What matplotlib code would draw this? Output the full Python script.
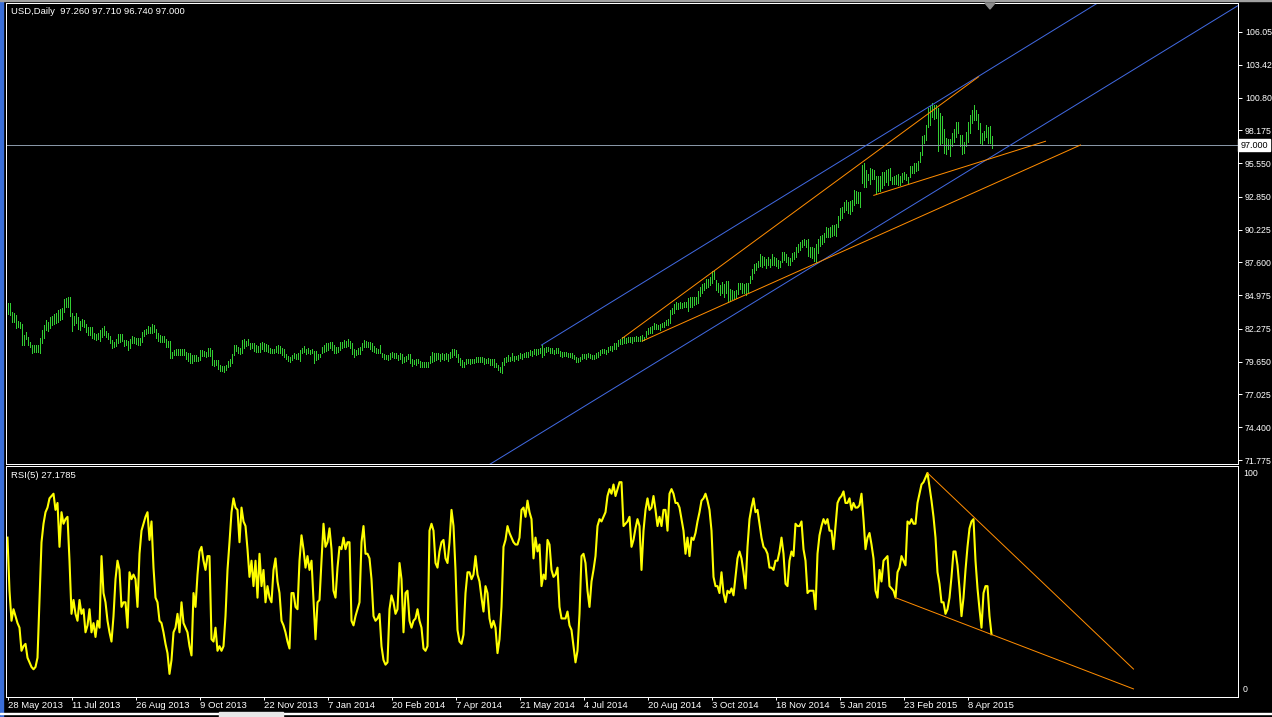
import matplotlib

matplotlib.use("Agg")
import matplotlib.pyplot as plt
from matplotlib.patches import Polygon, Rectangle
import numpy as np

W, H = 1272, 717

# Daily bars from 28 May 2013 to late April 2015
price_high = [
    84.32, 84.32, 83.63, 83.52, 83.39, 82.93, 82.80, 82.64, 81.79, 82.00,
    81.60, 81.23, 80.96, 80.96, 80.96, 80.96, 81.52, 82.19, 82.59, 82.99,
    82.80, 83.25, 83.31, 83.47, 83.52, 83.79, 83.89, 83.95, 84.67, 84.72,
    84.80, 84.80, 83.52, 83.31, 83.52, 83.20, 82.93, 83.04, 82.99, 82.67,
    82.45, 82.40, 82.40, 81.92, 81.87, 81.97, 82.19, 82.37, 82.51, 82.13,
    81.97, 81.71, 81.39, 81.23, 81.44, 81.87, 81.87, 81.87, 81.39, 81.39,
    81.33, 81.44, 81.71, 81.60, 81.55, 81.55, 81.55, 82.03, 82.19, 82.24,
    82.51, 82.40, 82.67, 82.61, 82.24, 81.92, 81.79, 81.71, 81.71, 81.44,
    81.33, 81.31, 80.42, 80.58, 80.64, 80.64, 80.67, 80.64, 80.64, 80.45,
    80.37, 80.32, 80.21, 80.16, 80.16, 80.05, 80.58, 80.58, 80.53, 80.42,
    80.72, 80.72, 80.58, 79.78, 79.78, 79.78, 79.38, 79.30, 79.30, 79.36,
    79.73, 79.84, 80.26, 80.96, 81.01, 80.85, 80.72, 81.39, 81.44, 81.31,
    81.44, 81.17, 81.12, 81.12, 80.96, 80.91, 81.17, 81.23, 81.12, 81.07,
    80.96, 80.72, 80.69, 80.69, 80.91, 80.96, 80.91, 80.75, 80.64, 80.26,
    80.10, 80.05, 80.21, 80.32, 80.26, 80.32, 80.58, 80.75, 80.91, 80.69,
    80.77, 80.58, 80.69, 80.53, 80.48, 80.26, 80.26,
    80.85, 80.98, 81.17, 81.17, 81.22, 81.22, 80.96, 80.85, 80.80, 81.22,
    81.22, 81.39, 81.33, 81.44, 81.33, 81.12, 80.64, 80.58, 80.72, 80.80,
    81.17, 81.39, 81.28, 81.25, 81.25, 81.17, 80.90, 80.72, 80.64, 80.98,
    80.32, 80.26, 80.18, 80.18, 80.32, 80.45, 80.37, 80.32, 80.18, 80.32,
    80.26, 80.05, 80.10, 80.26, 80.26, 79.84, 79.78, 79.84, 79.84, 79.68,
    79.65, 79.65, 79.62, 79.65, 80.10, 80.45, 80.37, 80.32, 80.37, 80.26,
    80.32, 80.26, 80.37, 80.26, 80.45, 80.64, 80.69, 80.58, 80.26, 79.92,
    79.78, 79.65, 79.84, 79.84, 79.84, 79.84, 79.89, 80.00, 80.05, 80.00,
    80.00, 79.92, 79.84, 79.92, 79.84, 79.84, 79.84, 79.57, 79.38, 79.25,
    79.65, 79.92, 80.05, 80.18, 80.00, 80.32, 80.10, 80.10, 80.18, 80.32,
    80.26, 80.37, 80.45, 80.45, 80.58, 80.53, 80.64, 80.69, 80.64, 80.72,
    80.98, 80.72, 80.80, 80.85, 80.74, 80.72, 80.58, 80.72, 80.74, 80.53,
    80.45, 80.45, 80.45, 80.37, 80.37, 80.32, 80.18, 80.05, 79.92, 80.05,
    80.26, 80.26, 80.26, 80.32, 80.26, 80.18, 80.18, 80.32, 80.45, 80.58,
    80.64, 80.69, 80.58, 80.85, 80.91, 80.91, 81.17, 81.12, 81.39, 81.49,
    81.60, 81.60, 81.52, 81.65, 81.65, 81.60, 81.65, 81.71, 81.65, 81.71,
    81.79, 81.65, 82.13, 82.35, 82.40, 82.51, 82.72, 82.67, 82.59, 82.67,
    82.77, 82.85, 82.99, 83.04, 83.79, 83.92, 84.27, 84.45, 84.32, 84.43,
    84.38, 84.45, 84.43, 84.72, 84.80, 84.80, 84.86, 84.86, 85.34, 85.60,
    85.87, 85.98, 86.24, 86.24, 86.46, 86.94, 86.94, 86.19, 85.98, 85.79,
    86.06, 85.87, 86.08, 86.08, 85.44, 85.39, 85.34, 85.39, 85.98, 85.98,
    85.98, 85.87, 85.98, 85.92, 86.51, 87.04, 87.47, 87.58, 87.74, 88.27,
    88.11, 88.06, 87.90, 88.06, 87.90, 88.27, 88.01, 87.93, 87.79, 87.74,
    88.46, 88.43, 88.27, 88.01, 87.93, 88.33, 88.46, 88.81, 89.07, 89.26,
    89.39, 89.50, 89.42, 89.45, 88.86, 88.81, 88.73, 89.07, 89.50, 89.70,
    89.79, 89.93, 90.41, 90.33, 90.46, 90.60, 90.60, 90.68, 91.32, 91.93,
    92.01, 92.46, 92.60, 92.46, 92.54, 92.60, 93.40, 93.34, 93.24, 93.27,
    95.40, 95.53, 95.00, 94.68, 95.13, 95.05, 95.00, 94.52, 94.52, 94.52,
    94.86, 94.86, 95.00, 95.10, 95.13, 94.41, 94.52, 94.57, 94.68, 94.52,
    94.79, 94.86, 94.68, 94.46, 95.32, 95.32, 95.53, 95.59, 95.75, 96.47,
    97.72, 97.80, 98.60, 99.94, 100.12, 100.34, 100.20, 100.20, 99.94, 99.59,
    99.32, 98.25, 97.53, 97.45, 97.45, 97.99, 98.25, 98.87, 98.87, 97.80,
    97.80, 97.27, 98.07, 98.87, 99.40, 99.80, 100.20, 99.80, 99.48, 98.74,
    97.93, 98.15, 98.60, 98.47, 98.52, 97.71,
]
price_low = [
    83.47, 83.39, 82.85, 82.85, 82.32, 82.45, 82.37, 80.96, 80.99, 81.44,
    80.99, 80.85, 80.37, 80.42, 80.42, 80.45, 80.37, 81.17, 81.52, 82.19,
    82.13, 82.37, 82.59, 82.67, 82.72, 82.85, 82.99, 83.04, 83.65, 84.00,
    84.05, 83.33, 82.13, 82.59, 82.72, 82.24, 82.19, 82.51, 82.40, 82.05,
    81.81, 81.79, 81.55, 81.44, 81.39, 81.44, 81.31, 81.60, 81.76, 81.65,
    81.47, 81.12, 80.75, 80.85, 80.91, 81.17, 81.23, 81.33, 80.91, 80.99,
    80.58, 80.75, 81.12, 81.12, 81.07, 80.96, 80.99, 81.25, 81.71, 81.87,
    81.97, 81.92, 81.92, 82.05, 81.55, 81.33, 81.23, 81.23, 81.23, 80.85,
    80.85, 79.97, 79.94, 80.16, 80.16, 80.16, 80.21, 80.21, 80.16, 79.84,
    79.68, 79.57, 79.52, 79.68, 79.73, 79.73, 79.78, 80.10, 80.10, 80.05,
    80.10, 80.10, 79.36, 79.30, 79.38, 79.04, 78.93, 78.93, 78.82, 78.98,
    79.20, 79.30, 79.57, 80.16, 80.53, 80.37, 80.26, 80.32, 80.72, 80.91,
    80.99, 80.64, 80.75, 80.53, 80.42, 80.45, 80.45, 80.64, 80.53, 80.53,
    80.42, 80.37, 80.37, 80.37, 80.42, 80.37, 80.37, 80.21, 80.05, 79.84,
    79.68, 79.65, 79.78, 79.94, 79.84, 79.84, 79.73, 80.37, 80.42, 80.26,
    80.32, 80.26, 80.32, 79.57, 79.78, 79.84, 80.00,
    80.32, 80.45, 80.53, 80.58, 80.72, 80.58, 80.37, 80.32, 80.45, 80.58,
    80.72, 80.85, 80.80, 80.90, 80.77, 80.26, 80.05, 80.18, 80.26, 80.26,
    80.58, 80.80, 80.80, 80.80, 80.66, 80.53, 80.45, 80.32, 80.32, 80.37,
    80.00, 79.84, 79.89, 79.78, 79.84, 80.05, 79.92, 79.94, 79.78, 79.84,
    79.52, 79.62, 79.73, 79.84, 79.57, 79.30, 79.46, 79.36, 79.52, 79.20,
    79.20, 79.20, 79.20, 79.25, 79.57, 79.65, 79.73, 79.78, 79.84, 79.73,
    79.84, 79.78, 79.84, 79.73, 79.92, 80.05, 80.16, 80.05, 79.65, 79.36,
    79.25, 79.25, 79.46, 79.52, 79.46, 79.52, 79.57, 79.62, 79.62, 79.62,
    79.62, 79.46, 79.52, 79.52, 79.36, 79.38, 79.25, 79.25, 78.98, 78.85,
    78.77, 79.38, 79.62, 79.73, 79.73, 79.78, 79.73, 79.84, 79.78, 79.92,
    79.89, 80.05, 80.05, 80.05, 80.18, 80.10, 80.26, 80.18, 80.26, 80.32,
    80.05, 80.18, 80.45, 80.53, 80.37, 80.37, 80.26, 80.32, 80.32, 80.10,
    80.05, 80.10, 80.10, 80.05, 80.05, 79.92, 79.84, 79.62, 79.62, 79.73,
    79.84, 79.92, 79.89, 80.00, 79.92, 79.84, 79.84, 79.92, 80.05, 80.18,
    80.32, 80.37, 80.26, 80.45, 80.58, 80.53, 80.69, 80.64, 80.91, 81.07,
    81.07, 81.17, 81.17, 81.25, 81.23, 81.17, 81.28, 81.33, 81.33, 81.33,
    81.33, 81.39, 81.60, 81.87, 81.92, 81.97, 82.24, 82.29, 82.24, 82.19,
    82.40, 82.45, 82.56, 82.61, 82.72, 83.47, 83.57, 83.84, 83.84, 83.95,
    83.92, 84.00, 84.00, 83.73, 84.05, 84.05, 84.19, 84.27, 84.32, 84.91,
    85.18, 85.39, 85.52, 85.60, 85.79, 85.92, 86.24, 85.39, 85.26, 84.99,
    85.12, 84.86, 85.12, 84.45, 84.53, 84.64, 84.64, 84.72, 85.07, 85.44,
    85.12, 85.12, 84.99, 85.26, 85.92, 86.24, 86.72, 86.99, 87.20, 87.31,
    87.26, 87.39, 87.15, 87.36, 87.26, 87.36, 87.36, 87.31, 87.15, 87.26,
    87.66, 87.79, 87.63, 87.42, 87.36, 87.74, 87.85, 88.06, 88.43, 88.59,
    88.81, 88.97, 88.86, 88.11, 88.06, 87.93, 87.74, 87.66, 88.33, 88.90,
    89.07, 89.26, 89.66, 89.66, 89.66, 89.71, 89.79, 89.71, 90.41, 91.00,
    91.13, 91.66, 91.80, 91.58, 91.48, 91.74, 92.20, 92.33, 92.38, 92.06,
    93.98, 93.61, 93.61, 94.20, 93.88, 94.25, 94.25, 93.08, 93.34, 93.34,
    93.53, 93.80, 94.06, 93.80, 94.20, 93.88, 93.88, 93.88, 93.80, 93.80,
    94.06, 94.25, 94.20, 93.98, 94.41, 94.73, 94.79, 94.94, 95.00, 95.67,
    96.20, 97.13, 97.40, 98.47, 98.60, 99.27, 99.06, 99.14, 96.55, 97.00,
    97.13, 96.39, 96.28, 96.65, 96.12, 96.92, 97.27, 97.67, 97.93, 96.92,
    96.28, 96.33, 96.92, 97.27, 97.93, 98.74, 99.00, 99.00, 98.25, 97.13,
    97.00, 97.40, 97.67, 97.19, 97.13, 96.74,
]
rsi5 = [
    69, 46, 33, 38, 35, 32, 30, 20, 22, 23,
    17, 15, 13, 12, 13, 17, 42, 67, 75, 80,
    82, 86, 87, 88, 81, 84, 65, 80, 75, 77,
    78, 59, 36, 42, 36, 33, 42, 36, 38, 28,
    31, 38, 28, 32, 26, 33, 30, 61, 45, 41,
    33, 28, 24, 35, 51, 59, 55, 39, 41, 41,
    30, 54, 51, 53, 51, 39, 62, 72, 75, 78,
    80, 68, 76, 56, 43, 41, 33, 32, 28, 23,
    19, 10, 16, 28, 30, 36, 28, 41, 32, 30,
    28, 22, 18, 45, 39, 53, 63, 65, 59, 55,
    61, 61, 25, 24, 30, 20, 22, 20, 22, 35,
    55, 67, 80, 86, 82, 81, 67, 82, 76, 74,
    64, 52, 59, 48, 59, 43, 62, 48, 55, 41,
    48, 43, 41, 55, 60, 50, 45, 33, 31, 28,
    24, 21, 45, 45, 39, 38, 59, 70, 64, 56,
    61, 55, 59, 42, 25, 41, 42, 59, 75, 65,
    67, 73, 64, 46, 43, 56, 65, 64, 69, 64,
    67, 67, 33, 31, 35, 38, 41, 67, 74, 62,
    62, 60, 51, 35, 33, 34, 36, 22, 16, 14,
    15, 38, 44, 41, 36, 38, 58, 51, 28, 45,
    46, 33, 30, 33, 34, 38, 33, 30, 21, 20,
    22, 72, 75, 72, 58, 56, 63, 67, 68, 60,
    58, 67, 81, 74, 55, 29, 24, 23, 27, 45,
    54, 54, 51, 53, 61, 53, 50, 43, 37, 48,
    45, 34, 30, 33, 30, 19, 25, 39, 65, 68,
    74, 71, 69, 67, 66, 66, 69, 81, 82, 78,
    85, 80, 77, 60, 69, 63, 66, 48, 53, 51,
    68, 66, 55, 52, 53, 56, 39, 34, 34, 34,
    37, 31, 29, 22, 15, 20, 36, 61, 62, 58,
    46, 39, 50, 55, 61, 74, 77, 76, 78, 80,
    87, 90, 88, 92, 87, 90, 93, 93, 74, 75,
    76, 78, 65, 68, 73, 77, 74, 55, 72, 81,
    86, 81, 82, 87, 81, 74, 78, 74, 81, 81,
    72, 88, 90, 88, 84, 84, 82, 77, 72, 62,
    69, 61, 69, 68, 71, 76, 80, 85, 86, 88,
    85, 81, 72, 52, 48, 48, 45, 54, 45, 41,
    46, 45, 47, 44, 52, 60, 63, 60, 54, 47,
    65, 77, 82, 86, 80, 81, 75, 69, 65, 64,
    62, 56, 56, 55, 59, 59, 63, 69, 62, 49,
    48, 59, 63, 61, 75, 74, 74, 76, 64, 59,
    45, 46, 46, 46, 38, 62, 70, 74, 77, 75,
    77, 72, 72, 64, 74, 84, 86, 87, 89, 84,
    84, 86, 81, 84, 82, 82, 83, 88, 77, 64,
    69, 71, 66, 60, 46, 43, 55, 50, 59, 60,
    61, 48, 47, 46, 43, 54, 56, 61, 59, 57,
    76, 75, 77, 75, 75, 84, 88, 92, 93, 95,
    97, 91, 85, 78, 69, 54, 49, 41, 41, 36,
    38, 43, 52, 63, 63, 57, 47, 35, 43, 55,
    65, 73, 76, 77, 59, 47, 38, 30, 45, 48,
    48, 35, 27.1785,
]

date_ticks = list(range(0, 481, 32))
date_labels = ["28 May 2013", "11 Jul 2013", "26 Aug 2013", "9 Oct 2013",
               "22 Nov 2013", "7 Jan 2014", "20 Feb 2014", "7 Apr 2014",
               "21 May 2014", "4 Jul 2014", "20 Aug 2014", "3 Oct 2014",
               "18 Nov 2014", "5 Jan 2015", "23 Feb 2015", "8 Apr 2015"]

price_ticks = [71.775, 74.4, 77.025, 79.65, 82.275, 84.975, 87.6,
               90.225, 92.85, 95.55, 98.175, 100.8, 103.425, 106.05]
price_tick_labels = ["71.775", "74.400", "77.025", "79.650", "82.275",
                     "84.975", "87.600", "90.225", "92.850", "95.550",
                     "98.175", "100.80", "103.42", "106.05"]

last_close = 97.0
header = "USD,Daily  97.260 97.710 96.740 97.000"
rsi_header = "RSI(5) 27.1785"

# trend lines drawn on the chart, as (bar index, value) end points
blue_upper = ([267, 560], [80.98, 109.84])
blue_lower = ([200, 620], [67.39, 108.63])
orange_upper = ([307.35, 485.5], [81.52, 102.46])
orange_lower = ([317.35, 536.5], [81.30, 97.00])
orange_mid = ([433.15, 519], [92.97, 97.30])
rsi_line_upper = ([460, 563], [97.0, 12.1])
rsi_line_lower = ([444, 563], [43.0, 3.5])

BAR = "#32cd32"
BLUE = "#4169e1"
ORANGE = "#ff8c00"
PX = 0.72  # one pixel, in points

plt.rcParams["font.family"] = ["Liberation Sans", "DejaVu Sans"]


def px_box(left, top, right, bottom):
    """Axes rectangle given in pixel edges (origin top-left)."""
    return [left / W, 1 - bottom / H, (right - left) / W, (bottom - top) / H]


def fpt(x, y):
    return (x / W, 1 - y / H)


def style_panel(ax):
    ax.set_facecolor("black")
    for s in ax.spines.values():
        s.set_color("white")
        s.set_linewidth(PX)


assert len(price_high) == len(price_low) == len(rsi5)
idx = np.arange(len(price_high))

fig = plt.figure(figsize=(W / 100, H / 100), dpi=100, facecolor="black")
ax_p = fig.add_axes(px_box(6, 3, 1238, 464))
ax_r = fig.add_axes(px_box(6, 466, 1238, 697))
style_panel(ax_p)
style_panel(ax_r)

# --- price panel
ax_p.vlines(idx, price_low, price_high, colors=BAR, lw=0.6, antialiased=False)
ax_p.axhline(last_close, color="#8896a6", lw=PX, antialiased=False)
for xs, ys in (blue_upper, blue_lower):
    ax_p.plot(xs, ys, color=BLUE, lw=PX)
for xs, ys in (orange_upper, orange_lower, orange_mid):
    ax_p.plot(xs, ys, color=ORANGE, lw=PX)
ax_p.set_xlim(-0.75, 615.25)
ax_p.set_ylim(71.455, 108.372)
ax_p.set_xticks([])
ax_p.yaxis.tick_right()
ax_p.set_yticks(price_ticks, price_tick_labels)
ax_p.tick_params(axis="y", colors="white", direction="out", length=3,
                 width=PX, labelsize=6.3, pad=2)
ax_p.text(1.0018, last_close, "97.000", transform=ax_p.get_yaxis_transform(),
          ha="left", va="center", fontsize=6.5, color="black", clip_on=False,
          bbox=dict(boxstyle="square,pad=0.2", fc="white", ec="white"))

# --- RSI panel
ax_r.plot(idx, rsi5, color="#ffff00", lw=1.5)
for xs, ys in (rsi_line_upper, rsi_line_lower):
    ax_r.plot(xs, ys, color=ORANGE, lw=PX)
ax_r.set_xlim(-0.75, 615.25)
ax_r.set_ylim(0, 100)
ax_r.set_yticks([])
ax_r.set_xticks(date_ticks, date_labels)
ax_r.tick_params(axis="x", colors="white", direction="out", length=2.5,
                 width=PX, labelsize=6.8, pad=0.5)
for lab in ax_r.get_xticklabels():
    lab.set_ha("left")

# --- texts and window furniture
fig.text(*fpt(11, 11.5), header, color="white", fontsize=6.8, va="center")
fig.text(*fpt(11, 475.5), rsi_header, color="white", fontsize=6.8, va="center")
fig.text(*fpt(1243, 473), "100", color="white", fontsize=6.3, va="center")
fig.text(*fpt(1243, 690), "0", color="white", fontsize=6.3, va="center")

fig.add_artist(Polygon([fpt(985, 3), fpt(995, 3), fpt(990, 9)], closed=True,
                       transform=fig.transFigure, color="#8c8c8c"))
fig.add_artist(Rectangle(fpt(0, 717), 3 / W, 1, transform=fig.transFigure,
                         color="#3a6ed8"))
fig.add_artist(Rectangle(fpt(0, 1), 1, 1 / H, transform=fig.transFigure,
                         color="#a0a0a0"))
fig.add_artist(Rectangle(fpt(0, 714), 1, 1.2 / H, transform=fig.transFigure,
                         color="white"))
fig.add_artist(Rectangle(fpt(219, 717), 64 / W, 5 / H,
                         transform=fig.transFigure, color="#e8e8e8"))

fig.savefig("out.png", dpi=100, facecolor="black")
